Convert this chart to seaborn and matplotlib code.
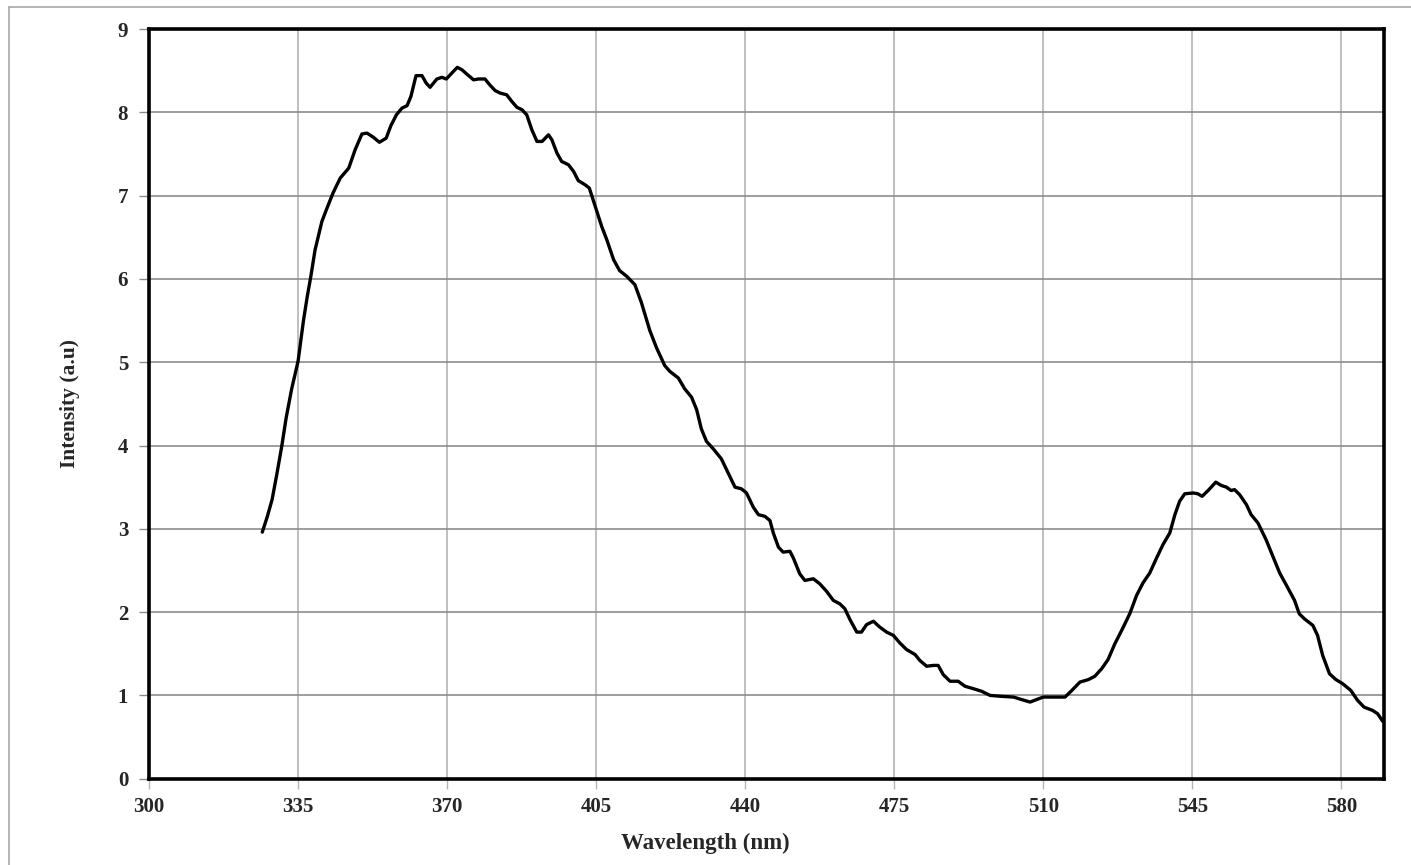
import matplotlib
matplotlib.use("Agg")
import matplotlib.pyplot as plt
import seaborn as sns
import pandas as pd
from matplotlib.lines import Line2D

wavelength = [
    326.6, 327.8, 328.9, 330.0, 331.2, 332.2, 333.5, 335.0, 336.3, 337.2,
    338.0, 339.0, 340.6, 341.8, 343.2, 344.9, 346.9, 348.4, 350.0, 351.2,
    352.7, 354.1, 355.7, 356.8, 358.1, 359.4, 360.6, 361.5, 362.7, 364.1,
    365.1, 366.0, 367.6, 368.8, 369.8, 371.1, 372.4, 373.5, 374.6, 376.2,
    377.4, 378.9, 380.0, 381.3, 382.5, 384.0, 385.2, 386.4, 387.6, 388.7,
    389.9, 391.1, 392.3, 393.8, 394.6, 395.8, 396.9, 398.5, 399.7, 400.8,
    402.4, 403.4, 404.8, 406.3, 407.5, 409.1, 410.5, 412.2, 414.1, 415.6,
    417.6, 419.2, 421.1, 422.3, 424.3, 425.8, 427.4, 428.6, 429.7, 430.9,
    432.5, 434.4, 436.0, 437.6, 439.1, 440.3, 441.9, 443.1, 444.6, 445.8,
    446.6, 447.8, 448.9, 450.5, 451.3, 452.8, 454.0, 456.0, 457.5, 459.1,
    460.7, 462.2, 463.4, 464.6, 466.2, 467.3, 468.5, 470.1, 471.6, 473.2,
    474.8, 476.3, 477.9, 479.9, 481.0, 482.6, 484.2, 485.3, 486.5, 488.1,
    490.0, 491.6, 493.6, 495.5, 497.5, 499.8, 503.0, 504.9, 506.9, 508.4,
    510.0, 512.3, 515.1, 516.7, 518.6, 520.6, 522.1, 523.7, 525.2, 526.8,
    528.4, 530.3, 531.9, 533.4, 535.0, 536.6, 538.1, 539.7, 540.9, 542.0,
    543.2, 545.2, 546.3, 547.3, 548.7, 550.5, 551.8, 553.0, 554.1, 554.9,
    556.1, 557.7, 558.8, 560.4, 562.3, 563.9, 565.5, 567.0, 569.0, 570.1,
    571.3, 573.3, 574.4, 575.6, 577.2, 578.7, 580.3, 582.2, 583.8, 585.3,
    587.3, 588.5, 589.7,
]
intensity = [
    2.96, 3.15, 3.35, 3.65, 4.00, 4.33, 4.68, 5.01, 5.51, 5.80,
    6.03, 6.35, 6.69, 6.85, 7.03, 7.21, 7.33, 7.55, 7.74, 7.75,
    7.70, 7.64, 7.69, 7.84, 7.97, 8.05, 8.08, 8.19, 8.44, 8.44,
    8.35, 8.30, 8.40, 8.42, 8.40, 8.47, 8.54, 8.51, 8.46, 8.39,
    8.40, 8.40, 8.33, 8.26, 8.23, 8.21, 8.13, 8.06, 8.03, 7.97,
    7.79, 7.65, 7.65, 7.73, 7.67, 7.51, 7.41, 7.37, 7.29, 7.18,
    7.13, 7.09, 6.87, 6.63, 6.47, 6.23, 6.10, 6.03, 5.93, 5.72,
    5.38, 5.17, 4.96, 4.89, 4.81, 4.68, 4.58, 4.43, 4.20, 4.05,
    3.96, 3.84, 3.67, 3.50, 3.48, 3.43, 3.26, 3.17, 3.15, 3.10,
    2.95, 2.78, 2.72, 2.73, 2.65, 2.46, 2.38, 2.40, 2.34, 2.25,
    2.14, 2.10, 2.04, 1.91, 1.76, 1.76, 1.85, 1.89, 1.82, 1.76,
    1.72, 1.63, 1.55, 1.49, 1.42, 1.35, 1.36, 1.36, 1.25, 1.17,
    1.17, 1.11, 1.08, 1.05, 1.00, 0.99, 0.98, 0.95, 0.92, 0.95,
    0.98, 0.98, 0.98, 1.06, 1.16, 1.19, 1.23, 1.32, 1.43, 1.62,
    1.78, 1.98, 2.20, 2.35, 2.47, 2.65, 2.81, 2.95, 3.17, 3.33,
    3.42, 3.43, 3.42, 3.39, 3.46, 3.56, 3.52, 3.50, 3.46, 3.47,
    3.41, 3.29, 3.17, 3.07, 2.87, 2.67, 2.47, 2.33, 2.14, 1.98,
    1.92, 1.84, 1.72, 1.48, 1.26, 1.19, 1.14, 1.06, 0.94, 0.86,
    0.82, 0.78, 0.69,
]
x_ticks = [300, 335, 370, 405, 440, 475, 510, 545, 580]
y_ticks = [0, 1, 2, 3, 4, 5, 6, 7, 8, 9]
x_label = "Wavelength (nm)"
y_label = "Intensity (a.u)"

sns.set_theme(style="white")
plt.rcParams["font.family"] = ["Liberation Serif", "DejaVu Serif"]
plt.rcParams["font.weight"] = "bold"

df = pd.DataFrame({"wl": wavelength, "I": intensity})

fig = plt.figure(figsize=(14.11, 8.65), dpi=100)
ax = fig.add_axes([149 / 1411, 1 - 778.7 / 865, (1384 - 149) / 1411, (778.7 - 29) / 865])

sns.lineplot(data=df, x="wl", y="I", ax=ax, color="black", linewidth=2.4,
             sort=False, estimator=None, zorder=3)
for ln in ax.lines:
    ln.set_solid_joinstyle("round")
    ln.set_solid_capstyle("round")

ax.set_xlim(300, 590)
ax.set_ylim(0, 9)
ax.set_xticks(x_ticks)
ax.set_yticks(y_ticks)
ax.set_xticklabels([str(v) for v in x_ticks], fontsize=15, fontweight="bold")
ax.set_yticklabels([str(v) for v in y_ticks], fontsize=15, fontweight="bold")

ax.xaxis.grid(True, color="#b4b4b4", linewidth=1.2)
ax.yaxis.grid(True, color="#8c8c8c", linewidth=1.2)
ax.set_axisbelow(True)

ax.tick_params(axis="y", which="major", direction="out", length=7, width=1,
               color="#8c8c8c", pad=8, left=True)
ax.tick_params(axis="x", which="major", direction="out", length=7, width=1,
               color="#b4b4b4", pad=6, bottom=True)

for s in ax.spines.values():
    s.set_visible(True)
    s.set_color("black")
    s.set_linewidth(2.6)

ax.set_xlabel(x_label, fontsize=16.5, fontweight="bold")
ax.set_ylabel(y_label, fontsize=15.5, fontweight="bold")
ax.xaxis.set_label_coords((705 - 149) / 1235, (778.7 - 843) / 749.7)
ax.xaxis.label.set_va("center")
ax.yaxis.set_label_coords((70 - 149) / 1235, (778.7 - 403) / 749.7)
ax.yaxis.label.set_va("center")

# thin outer frame (top and left edges)
fig.add_artist(Line2D([9 / 1411, 1.0], [1 - 7 / 865, 1 - 7 / 865],
                      color="#a8a8a8", linewidth=1.2, transform=fig.transFigure))
fig.add_artist(Line2D([9 / 1411, 9 / 1411], [0.0, 1 - 7 / 865],
                      color="#a8a8a8", linewidth=1.2, transform=fig.transFigure))

fig.savefig("out.png", dpi=100, facecolor="white")
